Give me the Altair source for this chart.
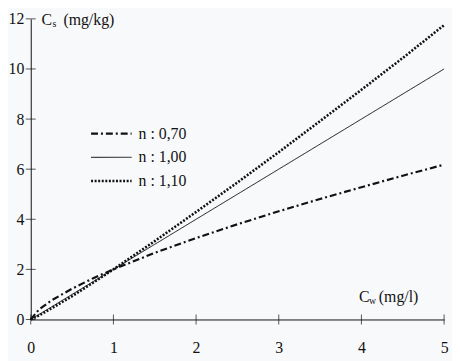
import altair as alt
import pandas as pd

# ---- data ----
cw = [0, 0.1, 0.25, 0.5, 0.75, 1, 1.5, 2, 2.5, 3, 3.5, 4, 4.5, 5]
cs_070 = [0, 0.40, 0.76, 1.23, 1.64, 2.0, 2.66, 3.25, 3.80, 4.32, 4.81, 5.28, 5.74, 6.18]
cs_100 = [0, 0.20, 0.50, 1.00, 1.50, 2.0, 3.00, 4.00, 5.00, 6.00, 7.00, 8.00, 9.00, 10.0]
cs_110 = [0, 0.16, 0.44, 0.93, 1.46, 2.0, 3.13, 4.29, 5.47, 6.68, 7.92, 9.17, 10.44, 11.75]
series = ["n : 0,70", "n : 1,00", "n : 1,10"]
x_ticks = [0, 1, 2, 3, 4, 5]
y_ticks = [0, 2, 4, 6, 8, 10, 12]

W, H = 418, 304
FONT = "'Liberation Serif', 'Times New Roman', serif"
INK = "#111111"
BG = "#f8f9fb"
styles = {
    "n : 0,70": dict(dash=[7, 3, 2, 3], width=2.2, py=116),
    "n : 1,00": dict(dash=[1, 0], width=1.0, py=140),
    "n : 1,10": dict(dash=[2, 1.6], width=2.6, py=164),
}

xs = alt.Scale(domain=[0, 5], nice=False, zero=False)
ys = alt.Scale(domain=[0, 12], nice=False, zero=False)

x_axis = alt.Axis(values=x_ticks, format="d", ticks=False, tickSize=0, grid=False, title=None,
                  labelFont=FONT, labelFontSize=16, labelColor=INK, labelPadding=20,
                  domainColor=INK, domainWidth=1, labelFlush=False)
y_axis = alt.Axis(values=y_ticks, format="d", ticks=False, tickSize=0, grid=False, title=None,
                  labelFont=FONT, labelFontSize=16, labelColor=INK, labelPadding=7,
                  domainColor=INK, domainWidth=1, labelFlush=False)

layers = []
for name, vals in zip(series, [cs_070, cs_100, cs_110]):
    st = styles[name]
    d = pd.DataFrame({"cw": cw, "cs": vals})
    layers.append(
        alt.Chart(d).mark_line(color=INK, strokeCap="butt", strokeDash=st["dash"],
                               strokeWidth=st["width"]).encode(
            x=alt.X("cw:Q", scale=xs, axis=x_axis),
            y=alt.Y("cs:Q", scale=ys, axis=y_axis),
        )
    )
    # legend entry
    ld = pd.DataFrame({"series": [name], "py": [st["py"]]})
    layers.append(
        alt.Chart(ld).mark_rule(color=INK, strokeCap="butt", strokeDash=st["dash"],
                                strokeWidth=st["width"]).encode(
            x=alt.value(61), x2=alt.value(102), y=alt.Y("py:Q", scale=None))
    )
    layers.append(
        alt.Chart(ld).mark_text(align="left", baseline="middle", font=FONT,
                                fontSize=16, color=INK).encode(
            x=alt.value(109), y=alt.Y("py:Q", scale=None), text="series:N")
    )

xt = alt.Chart(pd.DataFrame({"v": x_ticks})).mark_tick(
    color=INK, size=10, thickness=1, orient="vertical").encode(
    x=alt.X("v:Q", scale=xs), y=alt.value(H))
yt = alt.Chart(pd.DataFrame({"v": y_ticks})).mark_tick(
    color=INK, size=10, thickness=1, orient="horizontal").encode(
    y=alt.Y("v:Q", scale=ys), x=alt.value(0))

# axis titles with subscripts
big = pd.DataFrame({"t": ["C", "(mg/kg)", "C", "(mg/l)"],
                    "px": [11, 33, 332, 352], "py": [6, 6, 286, 286]})
small = pd.DataFrame({"t": ["s", "w"], "px": [22, 342], "py": [8, 288]})
big_t = alt.Chart(big).mark_text(align="left", baseline="alphabetic", font=FONT,
                                 fontSize=16, color=INK).encode(
    x=alt.X("px:Q", scale=None), y=alt.Y("py:Q", scale=None), text="t:N")
small_t = alt.Chart(small).mark_text(align="left", baseline="alphabetic", font=FONT,
                                     fontSize=10, color=INK).encode(
    x=alt.X("px:Q", scale=None), y=alt.Y("py:Q", scale=None), text="t:N")

chart = alt.layer(*layers, xt, yt, big_t, small_t).properties(
    width=W, height=H,
    autosize=alt.AutoSizeParams(type="none"),
    padding={"left": 23, "top": 9, "right": 8, "bottom": 40},
    background=BG,
).configure_view(stroke=None)

chart.save("out.html", embed_options={"renderer": "svg", "actions": False})
